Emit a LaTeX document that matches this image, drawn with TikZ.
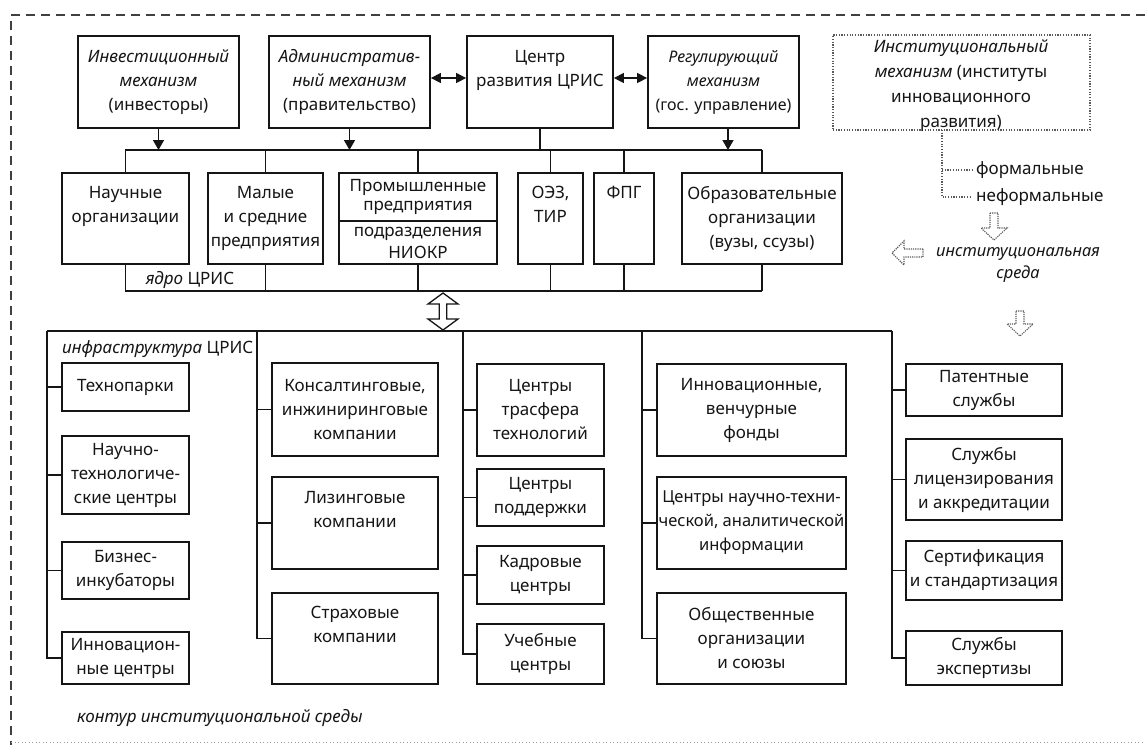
\documentclass[tikz,border=0pt]{standalone}
\usepackage{fontspec}
\setmainfont{Noto Sans}
\usetikzlibrary{arrows.meta}
\definecolor{ink}{HTML}{151515}
\definecolor{frameink}{HTML}{404040}
\definecolor{dotink}{HTML}{5A5A5A}
\newcommand\dgfont{\fontsize{17}{24}\selectfont}
\newcommand\emptyln{\vphantom{Иру}}
\tikzset{
  box/.style={draw=ink, line width=1.8pt, inner sep=0pt, align=center, text=ink, font=\dgfont},
  txt/.style={inner sep=0pt, align=center, text=ink, font=\dgfont},
  wire/.style={draw=ink, line width=1.4pt},
  arr/.style={wire, -{Triangle[length=10pt,width=11pt]}},
  dblarr/.style={wire, {Triangle[length=10pt,width=10pt]}-{Triangle[length=10pt,width=10pt]}},
  hollow/.style={draw=ink, line width=1.3pt, line join=miter},
  hollowdot/.style={draw=dotink, line width=1.1pt, dash pattern=on 1.2pt off 1pt},
  dotline/.style={draw=dotink, line width=1.1pt, dash pattern=on 1.2pt off 1.5pt},
  frameline/.style={draw=frameink, line width=1.4pt, dash pattern=on 9pt off 6pt}
}
\begin{document}
\begin{tikzpicture}[x=1pt,y=-1pt]
\useasboundingbox (0,0) rectangle (1145,745);

% outer contour
\draw[frameline] (1145,15) -- (11,15) -- (11,745);
\draw[draw=dotink!60, line width=0.8pt, dash pattern=on 1pt off 2.5pt] (11,742) -- (1145,742);

% ---- mechanisms ----
\node[box, minimum width=161pt, minimum height=92pt] (inv) at (158.5,82)
  {\textit{Инвестиционный}\\\textit{механизм}\\(инвесторы)};
\node[box, minimum width=161pt, minimum height=92pt] (adm) at (349.5,82)
  {\textit{Административ-}\\\textit{ный механизм}\\(правительство)};
\node[box, minimum width=146pt, minimum height=92pt] (cen) at (540,82)
  {Центр\\развития ЦРИС\\\emptyln};
\node[box, minimum width=151pt, minimum height=92pt, font=\fontsize{16}{24}\selectfont] (reg) at (723.5,82)
  {\textit{Регулирующий}\\\textit{механизм}\\(гос. управление)};

\draw[dblarr] ([yshift=4pt]adm.east) -- ([yshift=4pt]cen.west);
\draw[dblarr] ([yshift=4pt]cen.east) -- ([yshift=4pt]reg.west);

% ---- core of the system ----
\node[box, minimum width=127pt, minimum height=91pt] (nauch) at (125.5,218.5)
  {Научные\\организации\\\emptyln};
\node[box, minimum width=115pt, minimum height=91pt] (mal) at (265.5,218.5)
  {Малые\\и средние\\предприятия};
\node[box, minimum width=158pt, minimum height=91pt] (prom) at (418,218.5) {};
\node[box, minimum width=65pt, minimum height=91pt] (oez) at (550.5,218.5)
  {ОЭЗ,\\ТИР\\\emptyln};
\node[box, minimum width=60pt, minimum height=91pt] (fpg) at (624,218.5)
  {ФПГ\\\emptyln\\\emptyln};
\node[box, minimum width=160pt, minimum height=91pt] (obr) at (762,218.5)
  {Образовательные\\организации\\(вузы, ссузы)};

\draw[draw=ink, line width=1.4pt] (prom.west |- 0,221) -- (prom.east |- 0,221);
\node[txt, font=\fontsize{17}{19}\selectfont] (promA) at (418,197) {Промышленные\\предприятия};
\node[txt, font=\fontsize{17}{22}\selectfont] (promB) at (418,242.5) {подразделения\\НИОКР};

% upper bus
\coordinate (tL) at (125,150);
\coordinate (tR) at (762,150);
\draw[wire] (tL) -- (tR);
\draw[arr] (inv.south) -- (inv.south |- tL);
\draw[arr] (adm.south) -- (adm.south |- tL);
\draw[arr] ([xshift=4.5pt]reg.south) -- ([xshift=4.5pt]reg.south |- tL);
\draw[wire] (cen.south) -- (cen.south |- tL);
\foreach \b in {nauch,mal,prom,oez,fpg,obr}
  \draw[wire] (\b.north) -- (\b.north |- tL);

% lower bus of the core
\coordinate (jL) at (125,291);
\coordinate (jR) at (762,291);
\draw[wire] (jL) -- (jR);
\foreach \b in {nauch,mal,prom,oez,fpg,obr}
  \draw[wire] (\b.south) -- (\b.south |- jL);
\node[txt, anchor=center] (yadro) at (190,280) {\textit{ядро} ЦРИС};

% exchange between core and infrastructure
\draw[hollow] (443,293) -- (458,304) -- (446.7,304) -- (446.7,319) -- (458,319) -- (443,330)
  -- (428,319) -- (439.3,319) -- (439.3,304) -- (428,304) -- cycle;

% ---- infrastructure ----
\coordinate (s1) at (47,331);
\coordinate (s2) at (257,331);
\coordinate (s3) at (463,331);
\coordinate (s4) at (642,331);
\coordinate (s5) at (892,331);
\draw[wire] (s1) -- (s5);
\node[txt, anchor=west] (infra) at (62,349) {\textit{инфраструктура} ЦРИС};

% column 1
\node[box, minimum width=127pt, minimum height=48pt] (tp) at (125.5,387) {Технопарки};
\node[box, minimum width=127pt, minimum height=78pt] (ntc) at (125.5,475) {Научно-\\технологиче-\\ские центры};
\node[box, minimum width=127pt, minimum height=57pt] (bi) at (125.5,570.5) {Бизнес-\\инкубаторы};
\node[box, minimum width=127pt, minimum height=52pt] (ic) at (125.5,658) {Инновацион-\\ные центры};
\draw[wire] (s1) |- (ic.west);
\foreach \b in {tp,ntc,bi} \draw[wire] (\b.west) -- (\b.west -| s1);

% column 2
\node[box, minimum width=166pt, minimum height=93pt] (kons) at (355,409.5) {Консалтинговые,\\инжиниринговые\\компании};
\node[box, minimum width=166pt, minimum height=92pt] (liz) at (355,523) {Лизинговые\\компании\\\emptyln};
\node[box, minimum width=166pt, minimum height=91pt] (strah) at (355,638.5) {Страховые\\компании\\\emptyln};
\draw[wire] (s2) |- (strah.west);
\foreach \b in {kons,liz} \draw[wire] (\b.west) -- (\b.west -| s2);

% column 3
\node[box, minimum width=127pt, minimum height=92pt] (ctt) at (540.5,410) {Центры\\трасфера\\технологий};
\node[box, minimum width=127pt, minimum height=57pt] (cp) at (540.5,497.5) {Центры\\поддержки};
\node[box, minimum width=127pt, minimum height=58pt] (kc) at (540.5,575) {Кадровые\\центры};
\node[box, minimum width=127pt, minimum height=60pt] (uc) at (540.5,654) {Учебные\\центры};
\draw[wire] (s3) |- (uc.west);
\foreach \b in {ctt,cp,kc} \draw[wire] (\b.west) -- (\b.west -| s3);

% column 4
\node[box, minimum width=189pt, minimum height=92pt] (ivf) at (751.5,410) {Инновационные,\\венчурные\\фонды};
\node[box, minimum width=189pt, minimum height=92pt, font=\fontsize{16.5}{24}\selectfont] (cnti) at (751.5,523) {Центры научно-техни-\\ческой, аналитической\\информации};
\node[box, minimum width=189pt, minimum height=91pt] (oos) at (751.5,638.5) {Общественные\\организации\\и союзы};
\draw[wire] (s4) |- (oos.west);
\foreach \b in {ivf,cnti} \draw[wire] (\b.west) -- (\b.west -| s4);

% column 5
\node[box, minimum width=156pt, minimum height=52pt] (pat) at (984,390) {Патентные\\службы};
\node[box, minimum width=156pt, minimum height=81pt] (lic) at (984,479.5) {Службы\\лицензирования\\и аккредитации};
\node[box, minimum width=156pt, minimum height=59pt] (sert) at (984,570.5) {Сертификация\\и стандартизация};
\node[box, minimum width=156pt, minimum height=54pt] (exp) at (984,658) {Службы\\экспертизы};
\draw[wire] (s5) |- (exp.west);
\foreach \b in {pat,lic,sert} \draw[wire] (\b.west) -- (\b.west -| s5);

% ---- institutional mechanism ----
\node[draw=dotink, line width=1.1pt, dash pattern=on 1.2pt off 1.5pt, minimum width=257pt, minimum height=95pt, inner sep=0pt]
  (inst) at (961.5,82.5) {};
\node[txt, font=\fontsize{17}{25}\selectfont] (instT) at (961,86)
  {\textit{Институциональный}\\\textit{механизм} (институты\\инновационного\\развития)};
\coordinate (d0) at (942,130);
\node[txt, anchor=west, inner xsep=4pt] (form) at (972,170) {формальные};
\node[txt, anchor=west, inner xsep=4pt] (neform) at (972,197) {неформальные};
\draw[dotline] (d0) |- (neform.west);
\draw[dotline] (form.west -| d0) -- (form.west);

\draw[hollowdot] (990,213) -- (998,213) -- (998,228) -- (1007,228) -- (994,240) -- (981,228) -- (990,228) -- cycle;
\node[txt, font=\fontsize{16.5}{22}\selectfont\itshape] (sreda) at (1018,265) {институциональная\\среда};
\draw[hollowdot] (923,249) -- (904,249) -- (904,241) -- (892,253) -- (904,265) -- (904,257) -- (923,257) -- cycle;
\draw[hollowdot] (1016,311) -- (1024,311) -- (1024,324) -- (1033,324) -- (1020,336) -- (1007,324) -- (1016,324) -- cycle;

\node[txt, anchor=west] (kontur) at (77,718) {\textit{контур институциональной среды}};
\end{tikzpicture}
\end{document}
